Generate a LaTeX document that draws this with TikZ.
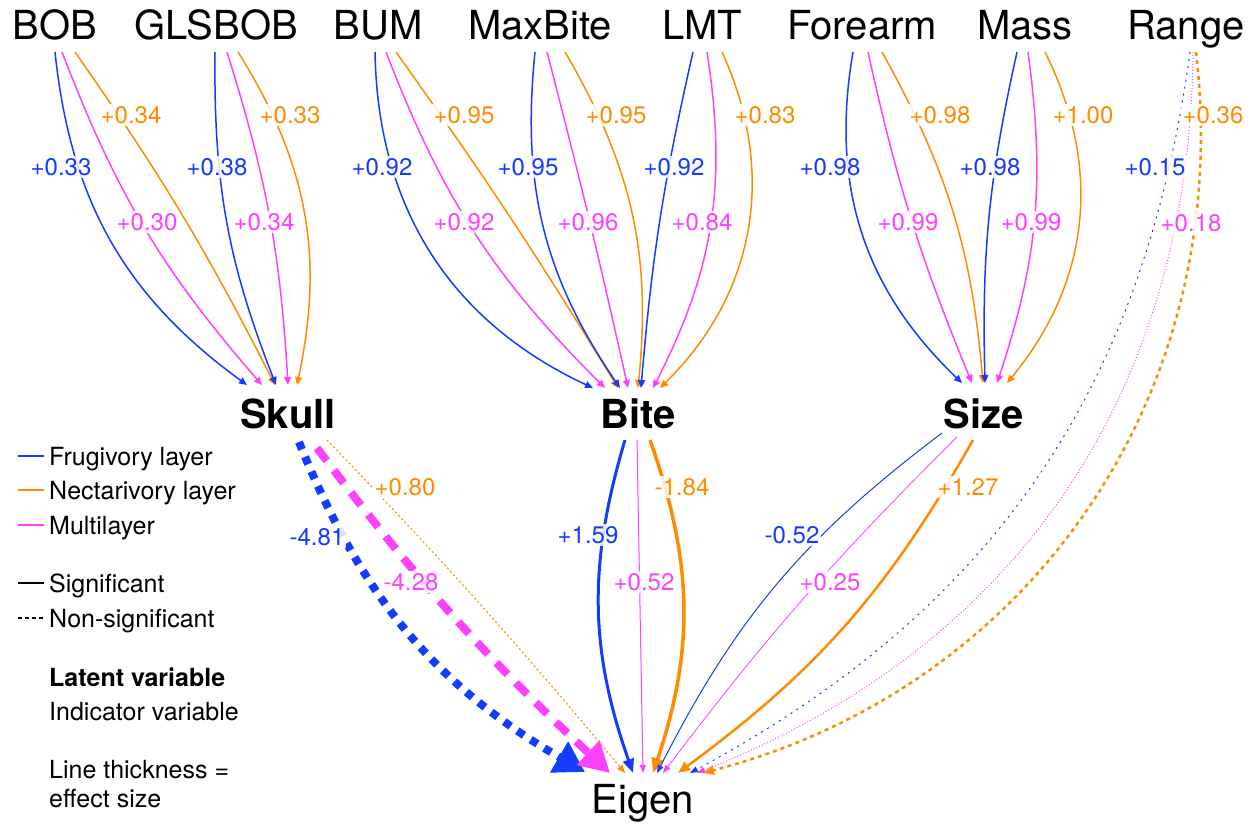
\documentclass[tikz,border=0pt]{standalone}
\usepackage{fontspec}
\setmainfont{TeX Gyre Heros}
\usetikzlibrary{arrows.meta,calc}
\definecolor{cfru}{RGB}{20,60,255}
\definecolor{cnec}{RGB}{255,140,0}
\definecolor{cmul}{RGB}{255,64,255}
\tikzset{
  ind/.style={font=\fontsize{40}{40}\selectfont, inner sep=0pt, anchor=base},
  lat/.style={font=\fontsize{40}{40}\selectfont\bfseries, inner sep=0pt, anchor=base},
  lab/.style={font=\fontsize{24}{24}\selectfont, fill=white, fill opacity=0.85, text opacity=1, inner sep=2pt},
  lg/.style={font=\fontsize{25}{25}\selectfont, inner sep=0pt, anchor=base west},
  fru/.style={draw=cfru},
  nec/.style={draw=cnec},
  mul/.style={draw=cmul},
  load/.style={line width=1.5pt, -{Triangle[length=8pt,width=7pt]}},
}
\begin{document}
\begin{tikzpicture}[x=1pt,y=1pt]
\useasboundingbox (0,0) rectangle (1255,-824);

% indicator variables
\node[ind] (BOB)     at (55,-40)   {BOB};
\node[ind] (GLSBOB)  at (216,-40)  {GLSBOB};
\node[ind] (BUM)     at (378,-40)  {BUM};
\node[ind] (MaxBite) at (540,-40)  {MaxBite};
\node[ind] (LMT)     at (702,-40)  {LMT};
\node[ind] (Forearm) at (862,-40)  {Forearm};
\node[ind] (Mass)    at (1025,-40) {Mass};
\node[ind] (Range)   at (1186,-40) {Range};

% latent variables and response
\node[lat] (Skull) at (288,-428) {Skull};
\node[lat] (Bite)  at (638,-428) {Bite};
\node[lat] (Size)  at (984,-428) {Size};
\node[ind] (Eigen) at (643,-813) {Eigen};

% loadings: indicator -> latent
\foreach \src/\dx/\dst/\tx/\ty/\ang/\sty in {
  BOB/0/Skull/-41/43/-24/fru, BOB/7/Skull/-26/43/-10/mul, BOB/20/Skull/-13/43/4/nec,
  GLSBOB/-1/Skull/-12/43/-11/fru, GLSBOB/11/Skull/0/43/7/mul, GLSBOB/22/Skull/9/43/22/nec,
  BUM/-3/Bite/-45/40/-32/fru, BUM/8/Bite/-33/40/-12/mul, BUM/18/Bite/-20/40/2/nec,
  MaxBite/-5/Bite/-18/40/-20/fru, MaxBite/7/Bite/-10/40/1/mul, MaxBite/25/Bite/0/40/18/nec,
  LMT/-9/Bite/3/40/-4/fru, LMT/5/Bite/15/40/18/mul, LMT/20/Bite/22/40/35/nec,
  Forearm/-9/Size/-22/45/-28/fru, Forearm/6/Size/-12/45/-5/mul, Forearm/20/Size/-1/45/12/nec,
  Mass/-8/Size/1/45/-7/fru, Mass/3/Size/13/45/13/mul, Mass/20/Size/23/45/33/nec}
  \draw[load, \sty] ($(\src.base)+(\dx,-12)$) to[bend left=\ang] ($(\dst.base)+(\tx,\ty)$);

% Skull -> Eigen
\draw[fru, line width=8pt, dash pattern=on 8pt off 8pt, -{Triangle[length=30pt,width=34pt]}]
  ($(Skull.base)+(11,-14)$) to[bend left=-19] ($(Eigen.base)+(-58,41)$);
\draw[mul, line width=8pt, dash pattern=on 16pt off 12pt, -{Triangle[length=30pt,width=32pt]}]
  ($(Skull.base)+(29,-20)$) to[bend left=-5] ($(Eigen.base)+(-33,40)$);
\draw[nec, line width=1.1pt, dash pattern=on 2pt off 2.5pt, -{Triangle[length=8pt,width=6.5pt]}]
  ($(Skull.base)+(39,-12)$) to[bend left=2] ($(Eigen.base)+(-18,40)$);

% Bite -> Eigen
\draw[fru, line width=3pt, -{Triangle[length=14pt,width=11pt]}]
  ($(Bite.base)+(-13,-12)$) to[bend left=-18] ($(Eigen.base)+(-10,40)$);
\draw[mul, line width=1pt, -{Triangle[length=8pt,width=6pt]}]
  ($(Bite.base)+(-1,-12)$) to[bend left=0] ($(Eigen.base)+(0,40)$);
\draw[nec, line width=3.5pt, -{Triangle[length=15pt,width=12pt]}]
  ($(Bite.base)+(12,-12)$) to[bend left=19] ($(Eigen.base)+(10,40)$);

% Size -> Eigen
\draw[fru, line width=1pt, -{Triangle[length=8pt,width=6pt]}]
  ($(Size.base)+(-42,-5)$) to[bend left=-13] ($(Eigen.base)+(14,40)$);
\draw[mul, line width=0.8pt, -{Triangle[length=8pt,width=6pt]}]
  ($(Size.base)+(-27,-9)$) to[bend left=-4] ($(Eigen.base)+(20,40)$);
\draw[nec, line width=2.5pt, -{Triangle[length=12pt,width=10pt]}]
  ($(Size.base)+(-11,-12)$) to[bend left=12] ($(Eigen.base)+(35,40)$);

% Range -> Eigen
\draw[fru, line width=1pt, dash pattern=on 2pt off 5pt, -{Triangle[length=8pt,width=6pt]}]
  ($(Range.base)+(4,-12)$) to[bend left=27] ($(Eigen.base)+(47,40)$);
\draw[mul, line width=1pt, dash pattern=on 1pt off 2pt, -{Triangle[length=8pt,width=6pt]}]
  ($(Range.base)+(7,-12)$) to[bend left=34] ($(Eigen.base)+(54,40)$);
\draw[nec, line width=2.5pt, dash pattern=on 4pt off 4pt, -{Triangle[length=11pt,width=9pt]}]
  ($(Range.base)+(10,-12)$) to[bend left=41] ($(Eigen.base)+(60,40)$);

% coefficients
\node[lab, text=cfru] (c1)  at (61,-167)   {+0.33};
\node[lab, text=cfru] (c2)  at (217,-167)  {+0.38};
\node[lab, text=cfru] (c3)  at (382,-167)  {+0.92};
\node[lab, text=cfru] (c4)  at (528,-167)  {+0.95};
\node[lab, text=cfru] (c5)  at (674,-167)  {+0.92};
\node[lab, text=cfru] (c6)  at (830,-167)  {+0.98};
\node[lab, text=cfru] (c7)  at (990,-167)  {+0.98};
\node[lab, text=cfru] (c8)  at (1155,-167) {+0.15};
\node[lab, text=cnec] (c9)  at (131,-115)  {+0.34};
\node[lab, text=cnec] (c10) at (290,-115)  {+0.33};
\node[lab, text=cnec] (c11) at (464,-115)  {+0.95};
\node[lab, text=cnec] (c12) at (616,-115)  {+0.95};
\node[lab, text=cnec] (c13) at (765,-115)  {+0.83};
\node[lab, text=cnec] (c14) at (940,-115)  {+0.98};
\node[lab, text=cnec] (c15) at (1083,-115) {+1.00};
\node[lab, text=cnec] (c16) at (1213,-115) {+0.36};
\node[lab, text=cmul] (c17) at (147,-222)  {+0.30};
\node[lab, text=cmul] (c18) at (264,-222)  {+0.34};
\node[lab, text=cmul] (c19) at (464,-222)  {+0.92};
\node[lab, text=cmul] (c20) at (588,-222)  {+0.96};
\node[lab, text=cmul] (c21) at (702,-222)  {+0.84};
\node[lab, text=cmul] (c22) at (908,-222)  {+0.99};
\node[lab, text=cmul] (c23) at (1031,-222) {+0.99};
\node[lab, text=cmul] (c24) at (1191,-223) {+0.18};
\node[lab, text=cfru] (c25) at (317,-537)  {-4.81};
\node[lab, text=cmul] (c26) at (411,-582)  {-4.28};
\node[lab, text=cnec] (c27) at (405,-487)  {+0.80};
\node[lab, text=cfru] (c28) at (588,-535)  {+1.59};
\node[lab, text=cmul] (c29) at (644,-582)  {+0.52};
\node[lab, text=cnec] (c30) at (682,-487)  {-1.84};
\node[lab, text=cfru] (c31) at (792,-535)  {-0.52};
\node[lab, text=cmul] (c32) at (830,-582)  {+0.25};
\node[lab, text=cnec] (c33) at (968,-487)  {+1.27};

% legend
\node[lg] (lgA) at (49,-465) {Frugivory layer};
\node[lg] (lgB) at (49,-499) {Nectarivory layer};
\node[lg] (lgC) at (49,-534) {Multilayer};
\node[lg] (lgD) at (49,-592) {Significant};
\node[lg] (lgE) at (49,-627) {Non-significant};
\node[lg, font=\fontsize{25}{25}\selectfont\bfseries] (lgF) at (49,-686) {Latent variable};
\node[lg] (lgG) at (49,-720) {Indicator variable};
\node[lg] (lgH) at (49,-778) {Line thickness =};
\node[lg] (lgI) at (49,-807) {effect size};
\draw[cfru, line width=1.5pt] ($(lgA.base west)+(-31,9)$) -- ($(lgA.base west)+(-5,9)$);
\draw[cnec, line width=1.5pt] ($(lgB.base west)+(-31,9)$) -- ($(lgB.base west)+(-5,9)$);
\draw[cmul, line width=1.5pt] ($(lgC.base west)+(-31,9)$) -- ($(lgC.base west)+(-5,9)$);
\draw[black, line width=1.5pt] ($(lgD.base west)+(-31,9)$) -- ($(lgD.base west)+(-5,9)$);
\draw[black, line width=1.5pt, dash pattern=on 4pt off 3pt] ($(lgE.base west)+(-31,9)$) -- ($(lgE.base west)+(-4,9)$);
\end{tikzpicture}
\end{document}
